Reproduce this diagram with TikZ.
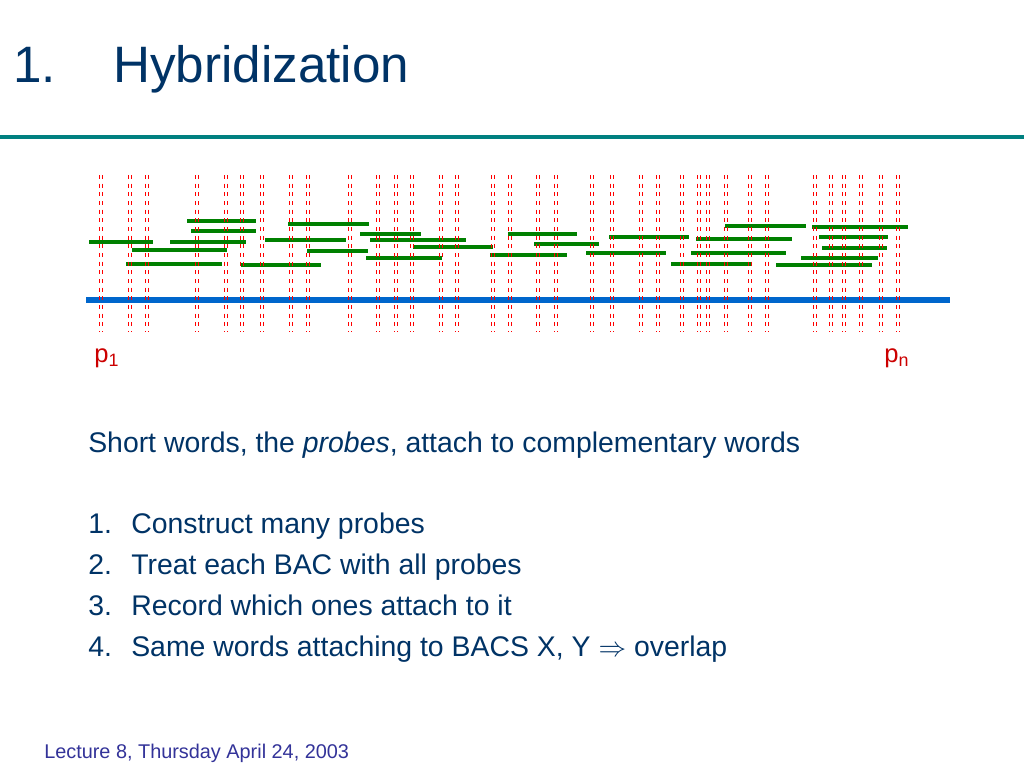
\documentclass[tikz,border=0pt]{standalone}
\usepackage{fontspec}
\setmainfont{Liberation Sans}
\definecolor{navy}{RGB}{0,51,102}
\definecolor{teal2}{RGB}{0,128,128}
\definecolor{probered}{RGB}{255,0,0}
\definecolor{darkred}{RGB}{204,0,0}
\definecolor{bacblue}{RGB}{0,102,204}
\definecolor{probegreen}{RGB}{0,128,0}
\definecolor{footblue}{RGB}{51,51,153}
\begin{document}
\begin{tikzpicture}[x=0.75pt,y=-0.75pt,
  probe/.style={draw=probered,line width=1.1pt,dash pattern=on 3pt off 3.5pt},
  frag/.style={draw=probegreen,line width=2.9pt},
  bac/.style={draw=bacblue,line width=4.8pt},
  title/.style={text=navy,font=\fontsize{38.4}{46}\selectfont,anchor=base west,inner sep=0pt},
  body/.style={text=navy,font=\fontsize{21.3}{25}\selectfont,anchor=base west,inner sep=0pt},
  plabel/.style={text=darkred,font=\fontsize{19.2}{23}\selectfont,anchor=base west,inner sep=0pt},
  foot/.style={text=footblue,font=\fontsize{14.9}{18}\selectfont,anchor=base west,inner sep=0pt}]
\useasboundingbox (0,0) rectangle (1024,768);
\fill[white] (0,0) rectangle (1024,768);
% title
\node[title] (num) at (13,82) {1.};
\node[title] (ttl) at (113,82) {Hybridization};
\draw[teal2,line width=2.4pt] (0,137) -- (1024,137);
% BAC
\coordinate (bacL) at (86,300);
\coordinate (bacR) at (950,300);
\draw[bac] (bacL) -- (bacR);
% fragments
\foreach \a/\b/\y in {187/256/221, 191/256/231, 89/153/242, 170/246/242, 132/227/250, 126/222/264,
  288/369/224, 265/346/240, 307/368/251, 241/321/265, 360/421/234, 370/466/240, 413/493/247,
  366/442/258, 508/577/234, 534/599/244, 490/567/255, 609/689/237, 586/666/253, 725/806/226,
  696/792/239, 691/786/253, 671/752/264, 776/872/265, 812/908/227, 819/888/237, 822/887/248,
  801/878/258}
  {\draw[frag] (\a,\y) -- (\b,\y);}
% probes
\foreach \x in {101,130,147,197,226,242,262,291,308,350,378,396,412,441,457,493,510,538,556,
  592,612,641,658,682,699,708,726,750,767,815,831,844,861,881,898}
  {\draw[probe] (\x-1.4,175) -- (\x-1.4,332);
   \draw[probe] (\x+1.4,175) -- (\x+1.4,332);}
\node[plabel] (p1) at (94,362) {p\textsubscript{1}};
\node[plabel] (pn) at (884,362) {p\textsubscript{n}};
% text
\node[body] (intro) at (88,452) {Short words, the \textit{probes}, attach to complementary words};
\node[body] (n1) at (88,533) {1.};
\node[body] (t1) at (131,533) {Construct many probes};
\node[body] (n2) at (88,574) {2.};
\node[body] (t2) at (131,574) {Treat each BAC with all probes};
\node[body] (n3) at (88,615) {3.};
\node[body] (t3) at (131,615) {Record which ones attach to it};
\node[body] (n4) at (88,656) {4.};
\node[body] (t4) at (131,656) {Same words attaching to BACS X, Y $\Rightarrow$ overlap};
\node[foot] (ft) at (44,758) {Lecture 8, Thursday April 24, 2003};
\end{tikzpicture}
\end{document}
